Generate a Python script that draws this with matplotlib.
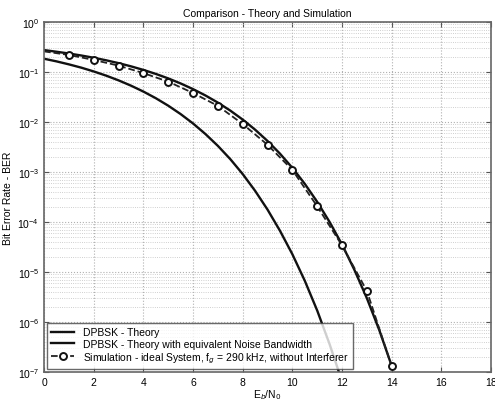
import matplotlib
matplotlib.use('Agg')
import matplotlib.pyplot as plt
from matplotlib.ticker import LogLocator, NullFormatter

plt.rcParams['font.family'] = ['Liberation Sans', 'DejaVu Sans']

# Eb/N0 grid (dB) for the theory curves
ebn0 = [0, 0.5, 1, 1.5, 2, 2.5, 3, 3.5, 4, 4.5, 5, 5.5, 6, 6.5, 7, 7.5,
        8, 8.5, 9, 9.5, 10, 10.5, 11, 11.5, 12, 12.5, 13, 13.5, 14]

ber_theory = [0.184, 0.163, 0.142, 0.122, 0.1025, 0.0845, 0.068, 0.0533,
              0.0406, 0.0299, 0.0212, 0.0144, 0.00934, 0.00574, 0.00333,
              0.00181, 9.1e-4, 4.2e-4, 1.77e-4, 6.7e-5, 2.27e-5, 6.7e-6,
              1.7e-6, 3.6e-7, 6.5e-8, None, None, None, None]

ber_theory_enb = [0.274, 0.254, 0.234, 0.2135, 0.1924, 0.1712, 0.1503, 0.1297,
                  0.110, 0.0915, 0.0744, 0.0590, 0.0454, 0.0339, 0.0244,
                  0.0169, 0.01117, 0.00702, 0.00417, 0.00233, 0.00121,
                  5.8e-4, 2.53e-4, 1.0e-4, 3.55e-5, 1.1e-5, 3.0e-6, 6.9e-7,
                  1.33e-7]

# simulation points
sim_x = [0, 1, 2, 3, 4, 5, 6, 7, 8, 9, 10, 11, 12, 13, 14]
sim_ber = [0.258, 0.219, 0.174, 0.134, 0.095, 0.064, 0.038, 0.021, 0.0091,
           0.0035, 0.0011, 2.06e-4, 3.4e-5, 4.2e-6, 1.3e-7]

fig = plt.figure(figsize=(4.95, 4.1), dpi=100)
ax = fig.add_axes([0.089, 0.090, 0.903, 0.854])

x1 = [x for x, y in zip(ebn0, ber_theory) if y is not None]
y1 = [y for y in ber_theory if y is not None]
ax.plot(x1, y1, color='#111111', lw=1.7, label='DPBSK - Theory')
ax.plot(ebn0, ber_theory_enb, color='#111111', lw=1.7,
        label='DPBSK - Theory with equivalent Noise Bandwidth')
ax.plot(sim_x, sim_ber, color='#222222', lw=1.3, ls='--', marker='o',
        markersize=5, markerfacecolor='white', markeredgecolor='#111111',
        markeredgewidth=1.4, markevery=list(range(1, len(sim_x))),
        label='Simulation - ideal System, f$_g$ = 290 kHz, without Interferer')

ax.set_yscale('log')
ax.set_xlim(0, 18)
ax.set_ylim(1e-7, 1)
ax.set_xticks(range(0, 19, 2))
ax.yaxis.set_major_locator(LogLocator(base=10, numticks=10))
ax.yaxis.set_minor_locator(LogLocator(base=10, subs=range(2, 10), numticks=20))
ax.yaxis.set_minor_formatter(NullFormatter())

ax.grid(True, which='major', color='#b0b0b0', ls=':', lw=0.8)
ax.grid(True, which='minor', axis='y', color='#c0c0c0', ls=':', lw=0.6)

ax.tick_params(which='both', direction='in', top=True, right=True,
               labelsize=7.5, color='#555555')
ax.tick_params(which='minor', length=0)
for s in ax.spines.values():
    s.set_color('#666666')
    s.set_linewidth(1.2)

ax.set_title('Comparison - Theory and Simulation', fontsize=7.5, pad=4)
ax.set_xlabel('E$_b$/N$_0$', fontsize=7.5, labelpad=0.5)
ax.set_ylabel('Bit Error Rate - BER', fontsize=7.5, labelpad=3)

leg = ax.legend(loc='lower left', fontsize=7.5, frameon=True, fancybox=False,
                borderaxespad=0.3, handlelength=2.2, labelspacing=0.15,
                borderpad=0.4, handletextpad=0.8)
leg.get_frame().set_edgecolor('#444444')
leg.get_frame().set_linewidth(1.0)

fig.savefig('out.png', dpi=100)
